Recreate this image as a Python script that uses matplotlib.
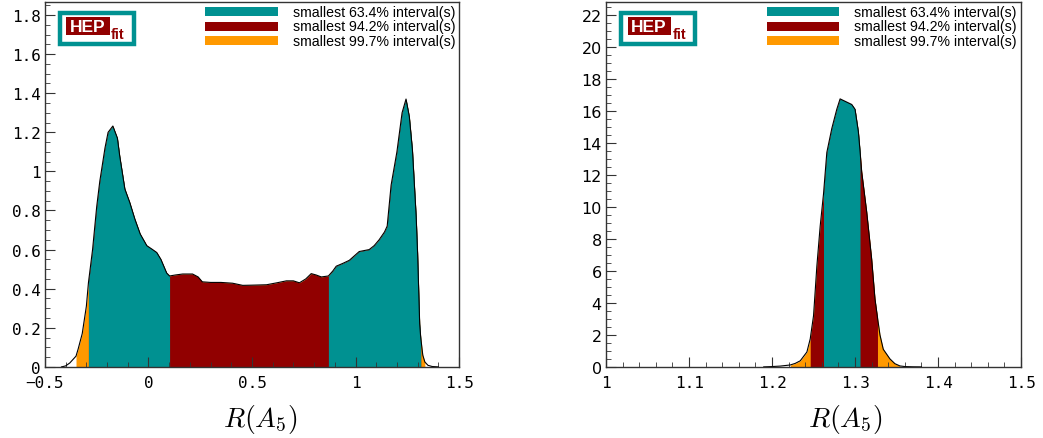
import numpy as np
import matplotlib
matplotlib.use("Agg")
import matplotlib.pyplot as plt
from matplotlib.patches import Rectangle
from matplotlib.ticker import MultipleLocator, AutoMinorLocator, FuncFormatter

# --- data ---
x_left = [-0.42, -0.40, -0.38, -0.35, -0.34, -0.32, -0.30, -0.29, -0.27, -0.25,
          -0.235, -0.21, -0.195, -0.172, -0.15, -0.139, -0.114, -0.09, -0.066,
          -0.04, -0.008, 0.02, 0.04, 0.06, 0.088, 0.102, 0.13, 0.165, 0.213,
          0.24, 0.26, 0.30, 0.35, 0.406, 0.455, 0.50, 0.57, 0.62, 0.666, 0.70,
          0.729, 0.76, 0.786, 0.81, 0.835, 0.869, 0.89, 0.907, 0.94, 0.97,
          1.018, 1.066, 1.09, 1.114, 1.14, 1.153, 1.172, 1.20, 1.225, 1.244,
          1.26, 1.275, 1.293, 1.30, 1.31, 1.315, 1.325, 1.335, 1.35, 1.37, 1.40]
y_left = [0.0, 0.005, 0.02, 0.055, 0.09, 0.17, 0.31, 0.43, 0.60, 0.82,
          0.95, 1.12, 1.20, 1.232, 1.17, 1.08, 0.91, 0.84, 0.757,
          0.68, 0.62, 0.60, 0.585, 0.55, 0.48, 0.465, 0.47, 0.475, 0.475,
          0.46, 0.435, 0.432, 0.432, 0.428, 0.417, 0.418, 0.42, 0.43, 0.44, 0.44,
          0.43, 0.45, 0.477, 0.47, 0.46, 0.465, 0.49, 0.515, 0.53, 0.545,
          0.59, 0.60, 0.62, 0.65, 0.69, 0.72, 0.93, 1.10, 1.30, 1.37,
          1.28, 1.11, 0.77, 0.58, 0.22, 0.15, 0.06, 0.025, 0.008, 0.002, 0.0]

x_right = [1.19, 1.20, 1.21, 1.222, 1.228, 1.234, 1.242, 1.246, 1.25, 1.254,
           1.258, 1.262, 1.266, 1.272, 1.278, 1.282, 1.288, 1.296, 1.30, 1.304,
           1.306, 1.308, 1.314, 1.320, 1.324, 1.327, 1.330, 1.334, 1.342, 1.348,
           1.354, 1.36, 1.37, 1.38]
y_right = [0.0, 0.02, 0.05, 0.12, 0.22, 0.38, 0.93, 1.75, 3.2, 6.3,
           8.8, 10.8, 13.4, 14.9, 16.1, 16.75, 16.6, 16.4, 16.1, 14.7,
           13.5, 12.2, 9.7, 6.75, 4.25, 3.1, 2.0, 1.1, 0.5, 0.2,
           0.06, 0.02, 0.005, 0.0]

# intervals: (probability, list of (lo, hi))
intervals_left = {
    "99.7": [(-0.35, 1.335)],
    "94.2": [(-0.29, 1.315)],
    "63.4": [(-0.29, 0.102), (0.869, 1.315)],
}
intervals_right = {
    "99.7": [(1.222, 1.354)],
    "94.2": [(1.246, 1.327)],
    "63.4": [(1.262, 1.306)],
}

colors = {"63.4": "#009191", "94.2": "#910000", "99.7": "#ff9900"}
legend_labels = ["smallest 63.4% interval(s)", "smallest 94.2% interval(s)",
                 "smallest 99.7% interval(s)"]

plt.rcParams["mathtext.fontset"] = "cm"

fig = plt.figure(figsize=(10.43, 4.39), dpi=100)
ax_l = fig.add_axes([0.0431, 0.162, 0.397, 0.831])
ax_r = fig.add_axes([0.581, 0.162, 0.398, 0.831])


def fmt(v, pos):
    return ("%g" % round(v, 6)).replace("-", "\u2212")


def draw(ax, x, y, intervals, xlim, ylim, xmaj, xmin_n, ymaj, ymin_n, yfont):
    x = np.asarray(x)
    y = np.asarray(y)
    for key in ["99.7", "94.2", "63.4"]:
        for lo, hi in intervals[key]:
            m = (x >= lo - 1e-9) & (x <= hi + 1e-9)
            ax.fill_between(x[m], 0, y[m], color=colors[key], lw=0)
    ax.plot(x, y, color="black", lw=0.8)
    ax.set_xlim(*xlim)
    ax.set_ylim(*ylim)

    ax.xaxis.set_major_locator(MultipleLocator(xmaj))
    ax.xaxis.set_minor_locator(AutoMinorLocator(xmin_n))
    ax.yaxis.set_major_locator(MultipleLocator(ymaj))
    ax.yaxis.set_minor_locator(AutoMinorLocator(ymin_n))
    ax.xaxis.set_major_formatter(FuncFormatter(fmt))
    ax.yaxis.set_major_formatter(FuncFormatter(fmt))
    ax.tick_params(which="both", direction="in", top=False, right=False,
                   color="#333333")
    ax.tick_params(which="major", length=7)
    ax.tick_params(which="minor", length=3.5)
    ax.tick_params(axis="x", pad=6)
    ax.tick_params(axis="y", pad=3)
    for lab in ax.get_xticklabels():
        lab.set_family("DejaVu Sans Mono")
        lab.set_fontsize(11.5)
    for lab in ax.get_yticklabels():
        lab.set_family(yfont)
        lab.set_fontsize(11.5)
    for s in ax.spines.values():
        s.set_color("#333333")
        s.set_linewidth(1.0)

    # legend boxes
    for i, (key, lab) in enumerate(zip(["63.4", "94.2", "99.7"], legend_labels)):
        yc = 0.973 - i * 0.0395
        ax.add_patch(Rectangle((0.387, yc - 0.0125), 0.175, 0.025,
                               transform=ax.transAxes, facecolor=colors[key],
                               edgecolor="none", zorder=5))
        ax.text(0.598, yc, lab, transform=ax.transAxes, fontsize=10.2,
                family="Liberation Sans", va="center", ha="left", zorder=5)

    # HEPfit logo
    ax.add_patch(Rectangle((0.036, 0.884), 0.179, 0.086, transform=ax.transAxes,
                           facecolor="white", edgecolor="#009191", lw=3.2,
                           zorder=6))
    ax.add_patch(Rectangle((0.052, 0.909), 0.104, 0.05, transform=ax.transAxes,
                           facecolor="#910000", edgecolor="none", zorder=7))
    ax.text(0.104, 0.934, "HEP", transform=ax.transAxes, fontsize=12.5,
            family="Liberation Sans", weight="bold", color="white",
            ha="center", va="center", zorder=8)
    ax.text(0.16, 0.913, "fit", transform=ax.transAxes, fontsize=10.5,
            family="Liberation Sans", weight="bold", color="#910000",
            ha="left", va="center", zorder=8)


draw(ax_l, x_left, y_left, intervals_left, (-0.5, 1.5), (0, 1.866),
     0.5, 5, 0.2, 4, "DejaVu Sans Mono")
draw(ax_r, x_right, y_right, intervals_right, (1.0, 1.5), (0, 22.8),
     0.1, 5, 2, 4, "DejaVu Sans")

ax_l.set_xlabel(r"$R(A_5)$", fontsize=20)
ax_l.xaxis.set_label_coords(0.52, -0.142)
ax_r.set_xlabel(r"$R(A_5)$", fontsize=20)
ax_r.xaxis.set_label_coords(0.576, -0.142)
for ax in (ax_l, ax_r):
    ax.xaxis.label.set_va("center")

fig.savefig("out.png", dpi=100)
